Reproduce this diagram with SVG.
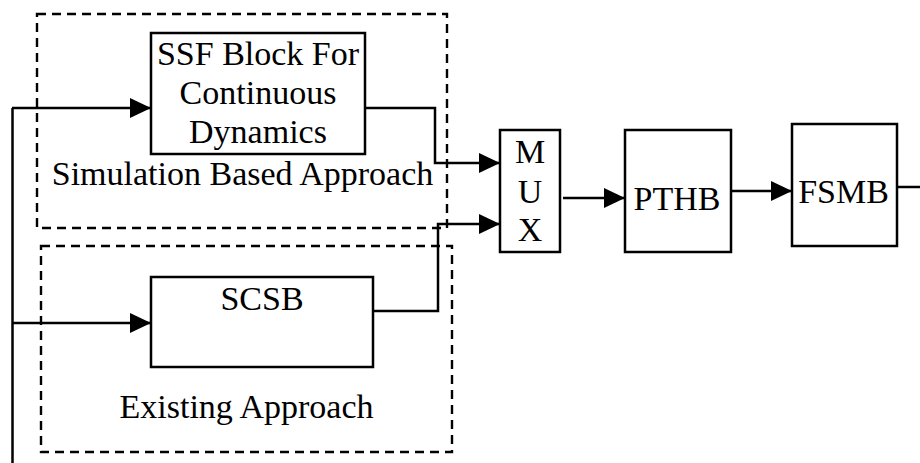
<svg xmlns="http://www.w3.org/2000/svg" width="920" height="463" viewBox="0 0 920 463">
<style>
.box{fill:#fff;stroke:#000;stroke-width:2.5}
.dash{fill:none;stroke:#000;stroke-width:2.4;stroke-dasharray:9 6}
.ln{fill:none;stroke:#000;stroke-width:2.5}
text{font-family:"Liberation Serif","Times New Roman",serif;font-size:34px;fill:#000;text-anchor:middle}
</style>
<defs>
<marker id="ah" markerUnits="userSpaceOnUse" markerWidth="22" markerHeight="20" refX="21" refY="10" orient="auto">
<path d="M0,0 L21,10 L0,20 Z" fill="#000"/>
</marker>
</defs>
<g id="group-simulation">
<rect class="dash" x="37" y="14" width="410" height="214"/>
<text x="242.5" y="185">Simulation Based Approach</text>
</g>
<g id="group-existing">
<rect class="dash" x="41" y="246" width="411" height="206"/>
<text x="246.5" y="418">Existing Approach</text>
</g>
<g id="connectors">
<path class="ln" d="M12.5,463 V108"/>
<path class="ln" d="M12,108 H151" marker-end="url(#ah)"/>
<path class="ln" d="M12,323 H151" marker-end="url(#ah)"/>
<path class="ln" d="M365,108 H435 V163 H500" marker-end="url(#ah)"/>
<path class="ln" d="M373,311 H438 V224 H500" marker-end="url(#ah)"/>
<path class="ln" d="M563,198 H625" marker-end="url(#ah)"/>
<path class="ln" d="M731,191 H792" marker-end="url(#ah)"/>
<path class="ln" d="M897,187 H920"/>
</g>
<g id="node-ssf">
<rect class="box" x="151" y="33" width="214" height="121"/>
<text x="258" y="65">SSF Block For</text>
<text x="258" y="104">Continuous</text>
<text x="258" y="143">Dynamics</text>
</g>
<g id="node-scsb">
<rect class="box" x="151" y="277" width="222" height="90"/>
<text x="262" y="310">SCSB</text>
</g>
<g id="node-mux">
<rect class="box" x="500" y="130" width="60" height="122"/>
<text x="530" y="163">M</text>
<text x="530" y="203">U</text>
<text x="530" y="241">X</text>
</g>
<g id="node-pthb">
<rect class="box" x="625" y="130" width="106" height="122"/>
<text x="677" y="210">PTHB</text>
</g>
<g id="node-fsmb">
<rect class="box" x="792" y="124" width="105" height="122"/>
<text x="843.5" y="203">FSMB</text>
</g>
</svg>
